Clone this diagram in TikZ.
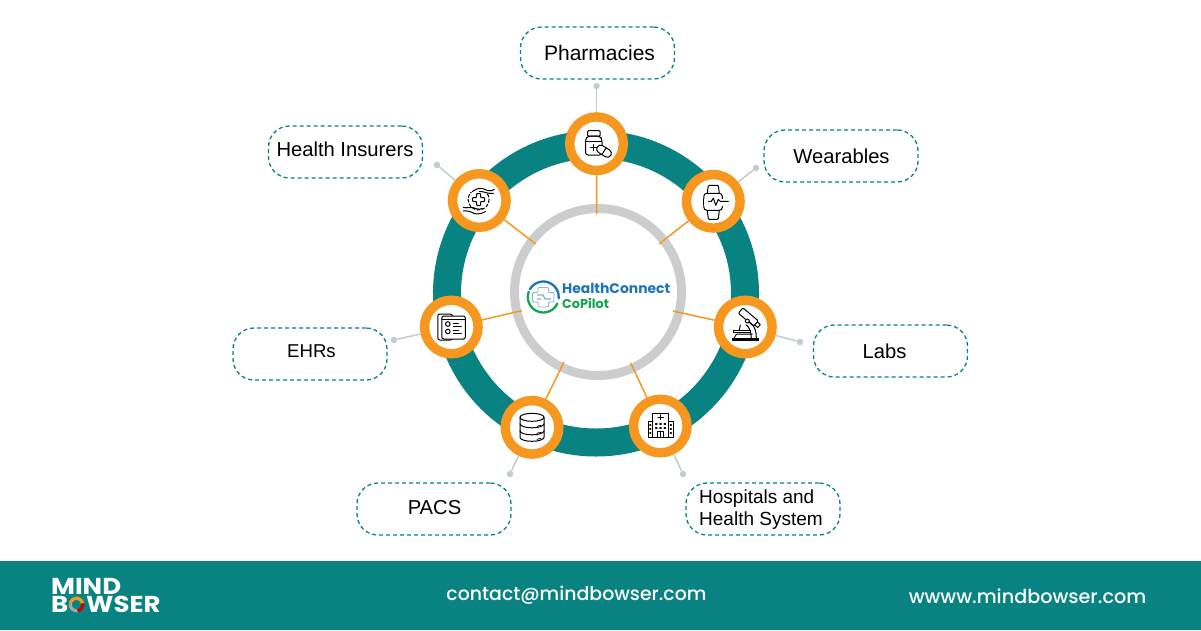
\documentclass[tikz,border=0pt]{standalone}
\usepackage{fontspec}
\setmainfont{Liberation Sans}
\newfontfamily\popp{Poppins}
\newfontfamily\poppm{Poppins Medium}
\usetikzlibrary{calc}
\definecolor{tealc}{HTML}{088382}
\definecolor{orangec}{HTML}{F6981F}
\definecolor{greyring}{HTML}{CCCDCF}
\definecolor{dotc}{HTML}{C2CFC8}
\definecolor{blogo}{HTML}{1C75BC}
\definecolor{glogo}{HTML}{12A64F}
\tikzset{
 hubring/.style={circle,draw=greyring,line width=9pt,fill=white,minimum size=167pt,inner sep=0pt},
 bigring/.style={circle,draw=tealc,line width=28pt,minimum size=298pt,inner sep=0pt},
 iconnode/.style={circle,draw=orangec,line width=9.4pt,fill=white,minimum size=53.6pt,inner sep=0pt},
 labelbox/.style={draw=tealc,line width=1.3pt,dash pattern=on 4pt off 3pt,rounded corners=21pt,minimum width=154pt,minimum height=52pt,inner sep=0pt,fill=white},
 dotn/.style={circle,fill=dotc,minimum size=6.5pt,inner sep=0pt},
 leader/.style={draw=dotc,line width=1.5pt},
 spoke/.style={draw=orangec,line width=1.5pt},
 ltxt/.style={inner sep=0pt,font=\fontsize{20.2}{22}\selectfont,align=left},
 ic/.style={line width=1pt,black,line join=round,line cap=round},
 foot/.style={text=white,font=\fontsize{18.9}{22}\selectfont\poppm,inner sep=0pt},
 logot/.style={text=white,font=\fontsize{23}{24}\popp\bfseries,inner sep=0pt,anchor=base west}
}
\begin{document}
\begin{tikzpicture}[x=1pt,y=-1pt]
\useasboundingbox (0,0) rectangle (1201,630);
\fill[white] (0,0) rectangle (1201,630);
\fill[tealc] (0,561) rectangle (1201,630);
% rings
\node[bigring] (big) at (596,293.5) {};
\node[hubring] (hub) at (598,292) {};
% spoke ends on the hub ring
\coordinate (ePh) at (596.7,214);
\coordinate (eIn) at (535.7,244);
\coordinate (eWe) at (659,244);
\coordinate (eEh) at (521.7,310.7);
\coordinate (eLa) at (673,311);
\coordinate (ePa) at (564,362);
\coordinate (eHo) at (630.7,363);
% icon circles
\node[iconnode] (cPh) at (596.5,143.7) {};
\node[iconnode] (cIn) at (479.3,200.5) {};
\node[iconnode] (cWe) at (713.3,201.3) {};
\node[iconnode] (cEh) at (451.3,327) {};
\node[iconnode] (cLa) at (745.3,327) {};
\node[iconnode] (cPa) at (532,427.3) {};
\node[iconnode] (cHo) at (660.3,426) {};
\foreach \c/\e in {cPh/ePh,cIn/eIn,cWe/eWe,cEh/eEh,cLa/eLa,cPa/ePa,cHo/eHo}
  \draw[spoke] (\c) -- (\e);
% leader dots
\node[dotn] (dPh) at (596.5,86) {};
\node[dotn] (dIn) at (437,165) {};
\node[dotn] (dWe) at (756,168) {};
\node[dotn] (dEh) at (394,340) {};
\node[dotn] (dLa) at (800,342) {};
\node[dotn] (dPa) at (510,474) {};
\node[dotn] (dHo) at (683,474) {};
\foreach \c/\e in {cPh/dPh,cIn/dIn,cWe/dWe,cEh/dEh,cLa/dLa,cPa/dPa,cHo/dHo}
  \draw[leader] (\c) -- (\e);
% labels
\node[labelbox] (lPh) at (597.5,53) {};
\node[labelbox] (lIn) at (345.5,152) {};
\node[labelbox] (lWe) at (841,156) {};
\node[labelbox] (lEh) at (310,354) {};
\node[labelbox] (lLa) at (890.5,351) {};
\node[labelbox] (lPa) at (434,509) {};
\node[labelbox] (lHo) at (763,509) {};
\node[ltxt,font=\fontsize{21}{22}\selectfont] (tPh) at (599.5,53) {Pharmacies};
\node[ltxt] (tIn) at (345,149) {Health Insurers};
\node[ltxt] (tWe) at (841.5,156) {Wearables};
\node[ltxt,font=\fontsize{18.6}{22}\selectfont] (tEh) at (311.5,351) {EHRs};
\node[ltxt] (tLa) at (884.5,351) {Labs};
\node[ltxt] (tPa) at (434.5,508) {PACS};
\node[ltxt,font=\fontsize{19}{22}\selectfont,anchor=west] (tHo) at (699,509.5) {Hospitals and\\Health System};
% pharmacy icon
\begin{scope}[shift={(596.5,143.7)},ic]
 \draw[rounded corners=1pt] (-9,-13) rectangle (3.7,-7.5);
 \draw[rounded corners=2.5pt] (-11,-4) -- (-9,-7.5) -- (3.7,-7.5) -- (5.5,-4) -- (5.5,11.3) -- (-11,11.3) -- cycle;
 \draw (-10.5,-2.5) -- (5,-2.5);
 \draw (-6,4) -- (0,4) (-3,1) -- (-3,7);
 \draw[fill=white,rounded corners=4pt,rotate around={-32:(7.5,7.5)}] (-0.5,3.5) rectangle (15.5,11.5);
 \draw[rotate around={-32:(7.5,7.5)}] (7.5,3.5) -- (7.5,11.5);
\end{scope}
% hands icon
\begin{scope}[shift={(479.3,200.5)},ic]
 \draw[densely dashed] (-0.7,-1) circle (10.5);
 \draw[rounded corners=0.8pt,fill=white] (-2.7,-7) -- (1.3,-7) -- (1.3,-3) -- (5.3,-3) -- (5.3,1) -- (1.3,1) -- (1.3,5) -- (-2.7,5) -- (-2.7,1) -- (-6.7,1) -- (-6.7,-3) -- (-2.7,-3) -- cycle;
 \draw[fill=white,draw=none] (-8,-14) rectangle (16,-9);
 \draw (-7,-9) .. controls (-2,-13) and (3,-13) .. (8,-10) .. controls (11,-9) and (13,-10) .. (15,-11);
 \draw (0,-9) .. controls (4,-9) and (6,-8) .. (8,-7.5) .. controls (11,-7) and (13,-7) .. (14,-7);
 \draw (-16,7) .. controls (-12,8) and (-10,6) .. (-7,7) .. controls (-5,7) and (-1,10) .. (3,8) ;
 \draw (-16,10.5) .. controls (-12,10) and (-9,11) .. (-5,13) .. controls (-1,14) and (3,13) .. (6,11);
\end{scope}
% watch icon
\begin{scope}[shift={(713.3,201.3)},ic]
 \draw[rounded corners=3pt] (-9.5,-8) rectangle (9,9);
 \draw[rounded corners=1pt] (-6,-8) -- (-5,-16) -- (5,-16) -- (6,-8);
 \draw[rounded corners=1pt] (-6,9) -- (-5,18) -- (5,18) -- (6,9);
 \draw[fill=white,draw=white,line width=1.5pt] (-10,-2) rectangle (10.5,4);
 \draw (-9.5,-2.5) -- (-9.5,4) ;
 \draw (-5,0) -- (-2,0) -- (0,-3) -- (2.5,4) -- (5,-2) -- (7,0) -- (15,0);
\end{scope}
% EHR icon
\begin{scope}[shift={(451.3,327)},ic]
 \draw[rounded corners=2pt] (-13.5,-13) rectangle (1,13);
 \draw[rounded corners=2pt,fill=white] (-9.5,-11) rectangle (14,12);
 \draw (-9.5,-7.5) -- (14,-7.5);
 \draw (-3.5,-3) circle (2.3) (-3.5,4.5) circle (2.3);
 \draw (2,-4) -- (7,-4) (2,-1) -- (10,-1) (2,3) -- (7,3) (2,6.5) -- (10,6.5);
\end{scope}
% microscope icon
\begin{scope}[shift={(745.3,327)},ic]
 \draw[fill=black] (-13,11) rectangle (13,13);
 \draw[rounded corners=1pt] (-11,11) -- (-9,7) -- (7,7) ;
 \draw (-12,3.5) rectangle (5,5.5);
 \draw[rounded corners=1pt,rotate around={-40:(3,-10)}] (-7,-13.5) rectangle (13,-6.5);
 \draw[rotate around={-40:(3,-10)}] (13,-12) -- (17,-12) -- (17,-8) -- (13,-8);
 \draw[fill=white] (2,-6) circle (2);
 \draw (4,-5) .. controls (10,-2) and (11,6) .. (11,11);
 \draw (1,-2) .. controls (4,0) and (6,5) .. (6,11);
 \draw (-5,-2) -- (-6,3);
\end{scope}
% database icon
\begin{scope}[shift={(532,427.3)},ic]
 \draw (0,-10) ellipse (12 and 4);
 \draw (-12,-10) -- (-12,10) arc[start angle=180,end angle=360,x radius=12pt,y radius=4pt] -- (12,-10);
 \draw (-12,-3.5) arc[start angle=180,end angle=360,x radius=12pt,y radius=4pt];
 \draw (-12,3.5) arc[start angle=180,end angle=360,x radius=12pt,y radius=4pt];
 \draw[line width=0.8pt] (5,-1) -- (9,-2) (5,6) -- (9,5) (5,12) -- (9,11);
\end{scope}
% hospital icon
\begin{scope}[shift={(660.3,426)},ic]
 \draw (-7.5,11) -- (-7.5,-13) -- (8,-13) -- (8,11);
 \draw (-7.5,-5) -- (-12,-5) -- (-12,11) -- (13,11) -- (13,-5) -- (8,-5);
 \draw (-2.5,-9) -- (3,-9) (0.2,-11.5) -- (0.2,-6.5);
 \draw (-2.5,11) -- (-2.5,5) -- (3,5) -- (3,11) (0.2,5) -- (0.2,11);
 \foreach \px in {-4,0.2,4.5} \foreach \py in {-2,2} \draw[line width=1.2pt] (\px-0.7,\py) -- (\px+0.7,\py);
 \foreach \px in {-10,10.5} \foreach \py in {-1,3,7} \draw[line width=1.2pt] (\px-0.5,\py) -- (\px+0.5,\py);
\end{scope}
% centre logo
\coordinate (logoC) at (543.3,297);
\draw[blogo,line width=2.3pt,line cap=round] ($(logoC)+(150:15.5pt)$) arc[start angle=150,end angle=-5,radius=15.5pt];
\draw[glogo,line width=2.3pt,line cap=round] ($(logoC)+(-25:15.5pt)$) arc[start angle=-25,end angle=-200,radius=15.5pt];
\draw[blogo!55,line width=0.8pt,rounded corners=1pt] (538,287.5) -- (548.5,287.5) -- (548.5,292.5) -- (554,292.5) -- (554,302) -- (548.5,302) -- (548.5,307) -- (538,307) -- (538,302) -- (532.5,302) -- (532.5,292.5) -- (538,292.5) -- cycle;
\draw[tealc,line width=0.6pt] (537,295) -- (543,295) -- (545,299) -- (551,299) (537,299) -- (541,299);
\node[inner sep=0pt,anchor=base west,text=blogo,font=\fontsize{13.9}{18}\popp\bfseries] (tHC) at (562,293) {HealthConnect};
\node[inner sep=0pt,anchor=base west,text=glogo,font=\fontsize{12.8}{18}\popp\bfseries] (tCP) at (562,308) {CoPilot};
% footer
\node[logot] (m1) at (51,594) {\scalebox{1.13}[1]{MIND}};
\node[logot] (m2) at (51,612) {\scalebox{1.13}[1]{B}};
\node[logot] (m3) at (86,612) {\scalebox{1.13}[1]{WSER}};
\coordinate (logoO) at (76.5,604.5);
\draw[orangec,line width=3.2pt] ($(logoO)+(170:6.3pt)$) arc[start angle=170,end angle=10,radius=6.3pt];
\draw[gray!70,line width=3.2pt] ($(logoO)+(170:6.3pt)$) arc[start angle=170,end angle=280,radius=6.3pt];
\draw[red!80!black,line width=3.2pt] ($(logoO)+(280:6.3pt)$) arc[start angle=280,end angle=370,radius=6.3pt];
\node[foot] (mail) at (576.5,595) {contact@mindbowser.com};
\node[foot,font=\fontsize{19.2}{22}\selectfont\poppm] (web) at (1027.5,596) {wwww.mindbowser.com};
\end{tikzpicture}
\end{document}
